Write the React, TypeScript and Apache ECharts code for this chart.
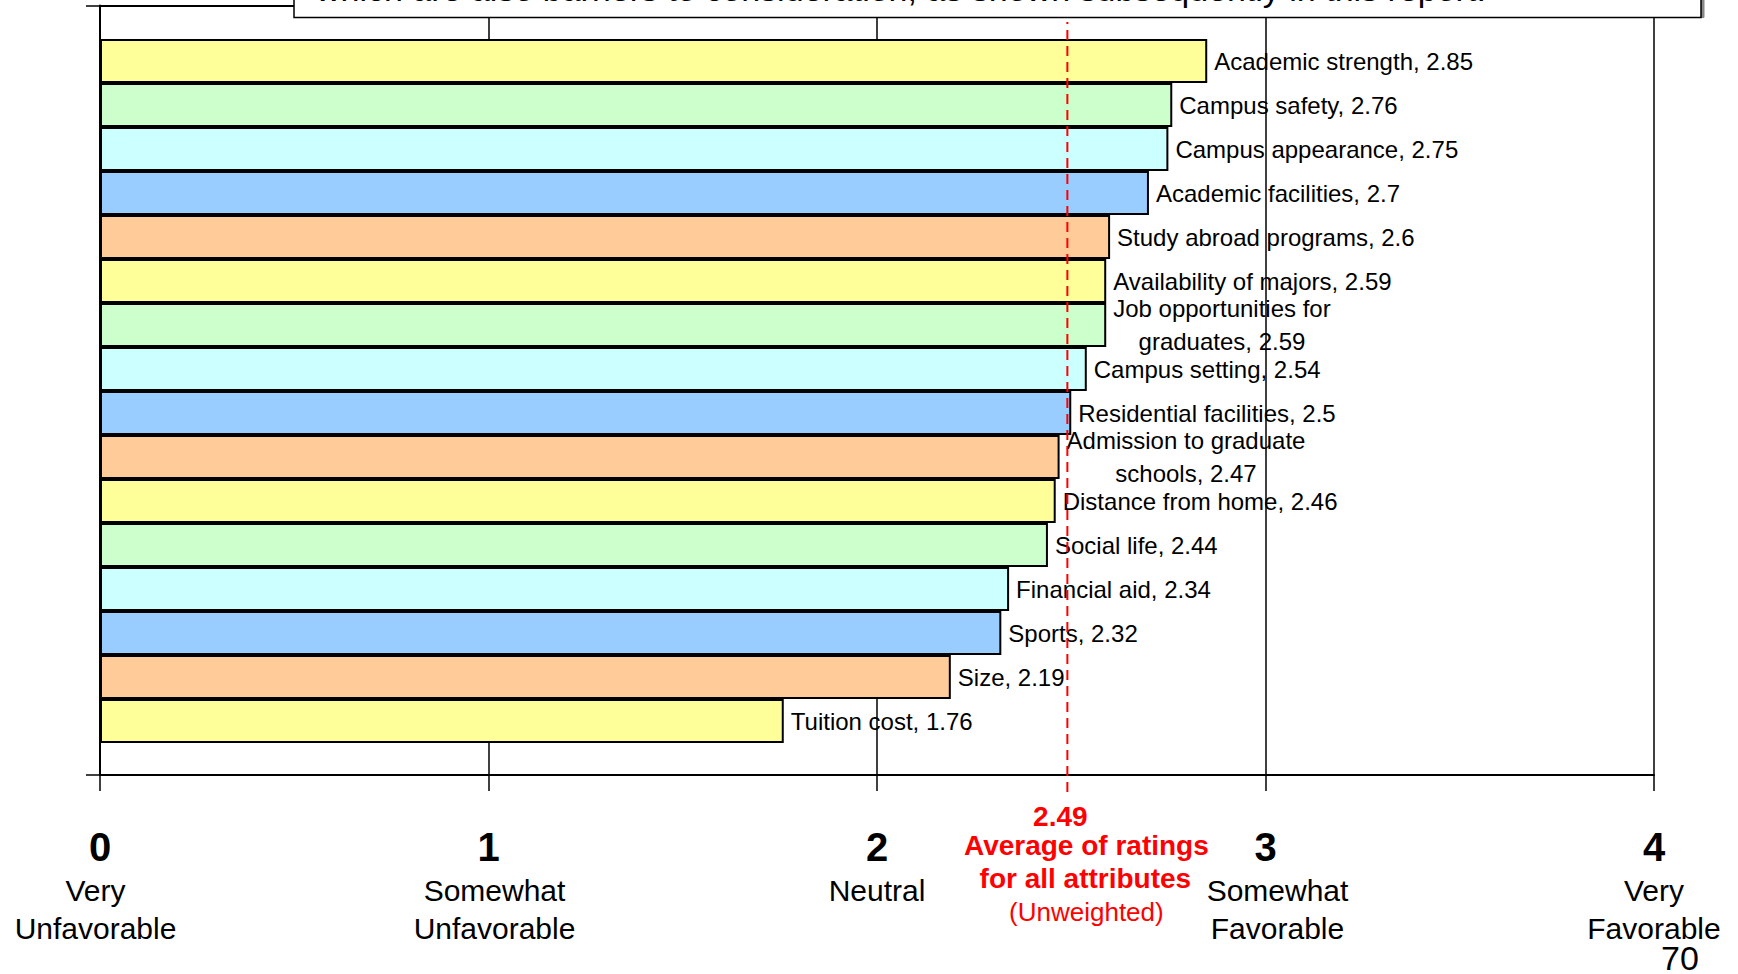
import React, { useEffect, useRef } from "react";
import * as echarts from "echarts";

const categories = [
  "Academic strength",
  "Campus safety",
  "Campus appearance",
  "Academic facilities",
  "Study abroad programs",
  "Availability of majors",
  "Job opportunities for\ngraduates",
  "Campus setting",
  "Residential facilities",
  "Admission to graduate\nschools",
  "Distance from home",
  "Social life",
  "Financial aid",
  "Sports",
  "Size",
  "Tuition cost",
];
const ratings = [2.85, 2.76, 2.75, 2.7, 2.6, 2.59, 2.59, 2.54, 2.5, 2.47, 2.46, 2.44, 2.34, 2.32, 2.19, 1.76];
const barColors = ["#FFFF99", "#CCFFCC", "#CCFFFF", "#99CCFF", "#FFCC99"];
const tickValues = [0, 1, 2, 3, 4];
const tickNames = ["Very\nUnfavorable", "Somewhat\nUnfavorable", "Neutral", "Somewhat\nFavorable", "Very\nFavorable"];
const AVERAGE = 2.49;
const averageLines = ["Average of ratings", "for all attributes"];
const averageNote = "(Unweighted)";
const boxText = "which are also barriers to consideration, as shown subsequently in this report.";
const pageNumber = "70";

const FONT = "'Liberation Sans', Arial, sans-serif";
const NARROW = "'Liberation Sans Narrow', 'Arial Narrow', 'Liberation Sans', Arial, sans-serif";

export default function App() {
  const ref = useRef<HTMLDivElement>(null);
  useEffect(() => {
    const chart = echarts.init(ref.current!, null, { renderer: "svg" });
    const L = 100, R = 84;
    const tickPads: any[] = [[0, 9, 0, 0], [0, 0, 0, 12], [0, 0, 0, 0], [0, 0, 0, 24], [0, 0, 0, 0]];
    const rich: any = { n: { fontSize: 40, fontWeight: "bold", lineHeight: 48, fontFamily: NARROW, color: "#000", align: "center" } };
    tickPads.forEach((p, i) => {
      rich["t" + i] = { fontSize: 30, lineHeight: 38, fontFamily: FONT, color: "#000", align: "center", padding: p };
    });
    const option: any = {
      animation: false,
      backgroundColor: "#fff",
      textStyle: { fontFamily: FONT },
      grid: [
        { left: L, right: R, top: 5.5, bottom: 199 },
        { left: L, right: R, top: 39, bottom: 231 },
        { left: L, right: R, top: 22, bottom: 182 },
      ],
      xAxis: [
        {
          gridIndex: 0, type: "value", min: 0, max: 4, interval: 1, position: "bottom",
          axisLine: { show: true, lineStyle: { color: "#000", width: 2 } },
          axisTick: { show: true, length: 16, lineStyle: { color: "#000", width: 1.5 } },
          splitLine: { show: true, lineStyle: { color: "#000", width: 1.5 } },
          axisLabel: {
            margin: 48,
            formatter: (v: number) => {
              const i = tickValues.indexOf(v);
              if (i < 0) return "";
              const lines = tickNames[i].split("\n").map((l) => `{t${i}|${l}}`);
              return `{n|${v}}\n` + lines.join("\n");
            },
            rich,
          },
        },
        {
          gridIndex: 0, type: "value", min: 0, max: 4, position: "top",
          axisLine: { show: true, lineStyle: { color: "#000", width: 2 } },
          axisTick: { show: false }, axisLabel: { show: false }, splitLine: { show: false },
        },
        { gridIndex: 1, type: "value", min: 0, max: 4, show: false },
        { gridIndex: 2, type: "value", min: 0, max: 4, show: false },
      ],
      yAxis: [
        {
          gridIndex: 0, type: "value", min: 0, max: 1, interval: 1,
          axisLine: { show: true, lineStyle: { color: "#000", width: 2 } },
          axisTick: { show: true, length: 14, lineStyle: { color: "#000", width: 1.5 } },
          axisLabel: { show: false }, splitLine: { show: false },
        },
        { gridIndex: 1, type: "category", inverse: true, data: categories, show: false },
        { gridIndex: 2, type: "value", min: 0, max: 1, show: false },
      ],
      series: [
        {
          type: "bar", xAxisIndex: 2, yAxisIndex: 1, barWidth: "100%",
          data: ratings.map((v, i) => ({ value: v, itemStyle: { color: barColors[i % barColors.length] } })),
          itemStyle: { borderColor: "#000", borderWidth: 2 },
          label: {
            show: true, position: "right", distance: 7,
            formatter: (p: any) =>
              `${p.name}, ${p.value}`.split("\n").map((l: string) => `{c|${l}}`).join("\n"),
            rich: { c: { fontSize: 24, lineHeight: 33, fontFamily: FONT, color: "#000", align: "center" } },
          },
          silent: true,
        },
        {
          type: "line", xAxisIndex: 3, yAxisIndex: 2, symbol: "none", silent: true,
          data: [[AVERAGE, 0], [AVERAGE, 1]],
          lineStyle: { color: "#FF0000", width: 2, type: [10, 6] },
        },
      ],
    };
    chart.setOption(option);
    const px = chart.convertToPixel({ xAxisIndex: 0 }, AVERAGE) as number;
    chart.setOption({
      graphic: [
        { type: "rect", z: 100, shape: { x: 297, y: -10, width: 1407, height: 27.5 }, style: { fill: "#888", stroke: "#888", lineWidth: 1 } },
        { type: "rect", z: 101, shape: { x: 294, y: -10, width: 1407, height: 27.5 }, style: { fill: "#fff", stroke: "#000", lineWidth: 1.5 } },
        { type: "text", z: 102, x: 316, y: -11, style: { text: boxText, fontSize: 34, fontFamily: FONT, fill: "#000", verticalAlign: "middle", align: "left" } },
        { type: "text", z: 50, x: px - 7, y: 816, style: { text: String(AVERAGE), fontSize: 28, fontWeight: "bold", fontFamily: FONT, fill: "#FF0000", align: "center", verticalAlign: "middle" } },
        { type: "text", z: 50, x: px + 19, y: 845, style: { text: averageLines[0], fontSize: 28, fontWeight: "bold", fontFamily: FONT, fill: "#FF0000", align: "center", verticalAlign: "middle" } },
        { type: "text", z: 50, x: px + 18, y: 878, style: { text: averageLines[1], fontSize: 28, fontWeight: "bold", fontFamily: FONT, fill: "#FF0000", align: "center", verticalAlign: "middle" } },
        { type: "text", z: 50, x: px + 19, y: 912, style: { text: averageNote, fontSize: 26, fontFamily: FONT, fill: "#FF0000", align: "center", verticalAlign: "middle" } },
        { type: "text", z: 50, x: 1680, y: 958, style: { text: pageNumber, fontSize: 34, fontFamily: FONT, fill: "#000", align: "center", verticalAlign: "middle" } },
      ],
    });
    return () => chart.dispose();
  }, []);
  return (
    <div
      ref={ref}
      style={{ position: "fixed", left: 0, top: 0, width: 1738, height: 974, background: "#fff" }}
    />
  );
}
